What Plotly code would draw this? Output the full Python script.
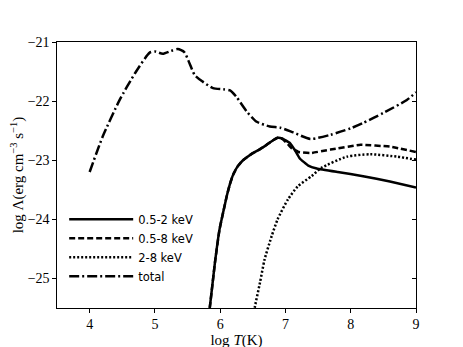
import plotly.graph_objects as go

# log T (K) and log Lambda (erg cm^-3 s^-1)
t_total = [4.0, 4.2, 4.46, 4.7, 4.92, 5.0, 5.12, 5.25, 5.35, 5.45, 5.53, 5.61, 5.73,
           5.89, 6.05, 6.15, 6.25, 6.41, 6.56, 6.76, 6.92, 7.12, 7.38, 7.69, 8.0,
           8.19, 8.5, 8.86, 9.0]
lam_total = [-23.2, -22.6, -21.98, -21.52, -21.18, -21.16, -21.2, -21.15, -21.12, -21.17,
             -21.36, -21.56, -21.67, -21.78, -21.8, -21.82, -21.93, -22.18, -22.35, -22.43,
             -22.45, -22.53, -22.64, -22.57, -22.46, -22.37, -22.2, -21.98, -21.85]

t_soft = [5.8, 5.84, 5.92, 5.99, 6.05, 6.1, 6.15, 6.2, 6.27, 6.35, 6.42, 6.5, 6.6, 6.71,
          6.8, 6.88, 6.95, 7.07, 7.15, 7.22, 7.35, 7.48, 7.8, 8.19, 8.6, 9.0]
lam_soft = [-25.8, -25.5, -24.73, -24.17, -23.86, -23.61, -23.4, -23.24, -23.1, -23.0,
            -22.94, -22.88, -22.82, -22.74, -22.67, -22.62, -22.63, -22.71, -22.84, -22.97,
            -23.09, -23.14, -23.2, -23.27, -23.36, -23.46]

t_broad = [5.8, 5.84, 5.92, 5.99, 6.05, 6.1, 6.15, 6.2, 6.27, 6.35, 6.42, 6.5, 6.6, 6.71,
           6.8, 6.88, 6.95, 7.03, 7.1, 7.2, 7.38, 7.69, 8.15, 8.6, 9.0]
lam_broad = [-25.8, -25.5, -24.73, -24.17, -23.86, -23.61, -23.4, -23.24, -23.1, -23.0,
             -22.94, -22.88, -22.82, -22.74, -22.67, -22.62, -22.64, -22.72, -22.8, -22.86,
             -22.88, -22.82, -22.74, -22.77, -22.86]

t_hard = [6.5, 6.53, 6.61, 6.68, 6.79, 6.88, 7.04, 7.19, 7.4, 7.55, 7.94, 8.3, 8.71, 9.0]
lam_hard = [-25.7, -25.49, -25.07, -24.68, -24.28, -24.0, -23.66, -23.44, -23.27, -23.13,
            -22.94, -22.9, -22.94, -22.99]

x_ticks = [4, 5, 6, 7, 8, 9]
y_ticks = [-25, -24, -23, -22, -21]
y_labels = ["\u221225", "\u221224", "\u221223", "\u221222", "\u221221"]

serif = "Liberation Serif"
sans = "DejaVu Sans"

fig = go.Figure()

series = [
    ("0.5-2 keV", t_soft, lam_soft, "solid", 0.3),
    ("0.5-8 keV", t_broad, lam_broad, "6px,3px", 0.3),
    ("2-8 keV", t_hard, lam_hard, "2px,2px", 0.6),
    ("total", t_total, lam_total, "10px,3px,2px,3px", 0.6),
]
for name, xs, ys, dash, smooth in series:
    fig.add_trace(go.Scatter(
        x=xs, y=ys, mode="lines", name=name,
        line=dict(color="black", width=2.5, dash=dash, shape="spline", smoothing=smooth),
    ))

# invisible trace so the right-hand axis (inward ticks) gets drawn
fig.add_trace(go.Scatter(x=[4], y=[-23], yaxis="y2", mode="lines",
                         showlegend=False, hoverinfo="skip", line=dict(width=0)))

# page body has an 8px margin, so the margins are shifted to compensate
fig.update_layout(
    width=463, height=347,
    margin=dict(l=49, r=55, t=34, b=47, autoexpand=False),
    paper_bgcolor="white", plot_bgcolor="white",
    xaxis=dict(
        range=[3.5, 9], tickvals=x_ticks, ticks="outside", ticklen=3.5,
        tickcolor="black", showline=True, linecolor="black", linewidth=1.2,
        mirror=True, showgrid=False, zeroline=False,
        tickfont=dict(family=serif, size=14, color="black"),
        title=dict(text="log <i>T</i>(K)", font=dict(family=serif, size=15, color="black"),
                   standoff=3),
    ),
    yaxis=dict(
        range=[-25.5, -21], tickvals=y_ticks, ticktext=y_labels,
        ticks="outside", ticklen=3.5, tickcolor="black",
        showline=True, linecolor="black", linewidth=1.2, showgrid=False, zeroline=False,
        tickfont=dict(family=serif, size=14, color="black"),
        title=dict(text="log \u039b(erg cm<sup>\u22123</sup> s<sup>\u22121</sup>)",
                   font=dict(family=serif, size=15, color="black"), standoff=6),
    ),
    yaxis2=dict(
        range=[-25.5, -21], tickvals=y_ticks, overlaying="y", side="right",
        ticks="inside", ticklen=3.5, tickcolor="black", showticklabels=False,
        showline=True, linecolor="black", linewidth=1.2, showgrid=False, zeroline=False,
    ),
    legend=dict(
        x=0.02, y=0.065, xanchor="left", yanchor="bottom",
        bgcolor="rgba(0,0,0,0)", borderwidth=0, itemwidth=64,
        font=dict(family=sans, size=11.5, color="black"), tracegroupgap=0,
    ),
    showlegend=True,
)

fig.write_html("out.html")
